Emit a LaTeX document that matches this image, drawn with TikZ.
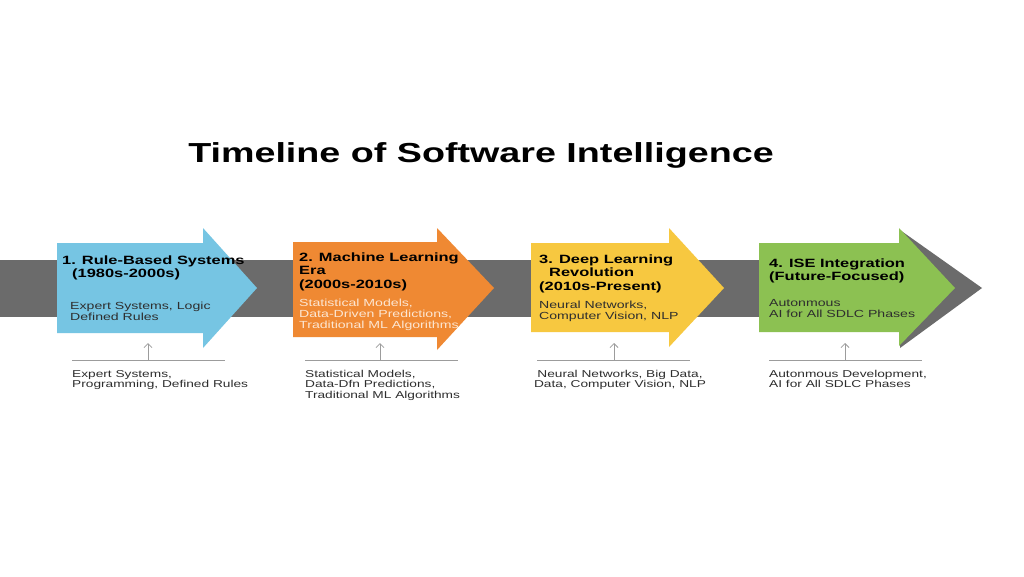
\documentclass[tikz,border=0pt]{standalone}
\usepackage{fontspec}
\setmainfont[FakeStretch=1.37]{Liberation Sans}
\usetikzlibrary{arrows.meta}
\definecolor{bandgray}{HTML}{6B6B6B}
\definecolor{ruleblue}{HTML}{76C5E3}
\definecolor{mlorange}{HTML}{EF8933}
\definecolor{dlyellow}{HTML}{F7C840}
\definecolor{isegreen}{HTML}{8CC152}
\definecolor{linegray}{HTML}{9C9C9C}
\definecolor{textgray}{HTML}{2E2E2E}
\definecolor{peach}{HTML}{FCE6D2}
\begin{document}
\begin{tikzpicture}[x=1pt, y=-1pt,
    heading/.style={anchor=base west, align=left, inner sep=0pt, text=black,
        font=\bfseries\fontsize{12}{13.6}\selectfont},
    detail/.style={anchor=base west, align=left, inner sep=0pt, text=textgray,
        font=\fontsize{10.3}{11.4}\selectfont},
    note/.style={anchor=base west, align=left, inner sep=0pt, text=textgray,
        font=\fontsize{10}{10.8}\selectfont},
    marker/.style={-{Straight Barb[length=4pt,width=8pt]}, linegray, line width=0.8pt},
    baseline/.style={linegray, line width=0.9pt}]
        \useasboundingbox[fill=white] (0,0) rectangle (1024,576);
        % title
        \node[anchor=base, inner sep=0pt, font=\bfseries\fontsize{27.5}{30}\selectfont] (title) at (481,162) {Timeline of Software Intelligence};
        % gray time band
        \fill[bandgray] (0,260) rectangle (905,317);
        \fill[bandgray] (900,230) -- (982,288) -- (900,348) -- cycle;
        % block arrows
        \fill[ruleblue] (57,243) -- (203,243) -- (203,228) -- (257,288) -- (203,348) -- (203,333) -- (57,333) -- cycle;
        \fill[mlorange] (293,242) -- (437,242) -- (437,228) -- (494,288) -- (437,350) -- (437,337) -- (293,337) -- cycle;
        \fill[dlyellow] (531,243) -- (669,243) -- (669,228) -- (724,288) -- (669,347) -- (669,332) -- (531,332) -- cycle;
        \fill[isegreen] (759,243) -- (899,243) -- (899,228) -- (955,288) -- (899,346) -- (899,332) -- (759,332) -- cycle;
        % headings inside the arrows (placed at the baseline of their last line)
        \node[heading] (head1) at (62,277.6)  {1. Rule-Based Systems\\\hspace*{10pt}(1980s-2000s)};
        \node[heading] (head2) at (299,288.2) {2. Machine Learning\\Era\\(2000s-2010s)};
        \node[heading] (head3) at (539,290.2) {3. Deep Learning\\\hspace*{10pt}Revolution\\(2010s-Present)};
        \node[heading] (head4) at (769,280.6) {4. ISE Integration\\(Future-Focused)};
        % details inside the arrows
        \node[detail] (detail1) at (70,320.4)  {Expert Systems, Logic\\Defined Rules};
        \node[detail, text=peach] (detail2) at (299,328.8) {Statistical Models,\\Data-Driven Predictions,\\Traditional ML Algorithms};
        \node[detail] (detail3) at (539,319.4) {Neural Networks,\\Computer Vision, NLP};
        \node[detail] (detail4) at (769,317.4) {Autonmous\\AI for All SDLC Phases};
        % markers under the arrows
        \coordinate (left1) at (72,360);   \coordinate (right1) at (225,360);
        \coordinate (left2) at (305,360);  \coordinate (right2) at (458,360);
        \coordinate (left3) at (537,360);  \coordinate (right3) at (690,360);
        \coordinate (left4) at (769,360);  \coordinate (right4) at (922,360);
        \coordinate (foot1) at (148,360);  \coordinate (tip1) at (148,343);
        \coordinate (foot2) at (380,360);  \coordinate (tip2) at (380,343);
        \coordinate (foot3) at (614,360);  \coordinate (tip3) at (614,343);
        \coordinate (foot4) at (845,360);  \coordinate (tip4) at (845,343);
        \draw[baseline] (left1) -- (right1);
        \draw[baseline] (left2) -- (right2);
        \draw[baseline] (left3) -- (right3);
        \draw[baseline] (left4) -- (right4);
        \draw[marker] (foot1) -- (tip1);
        \draw[marker] (foot2) -- (tip2);
        \draw[marker] (foot3) -- (tip3);
        \draw[marker] (foot4) -- (tip4);
        % notes below
        \node[note] (note1) at (72,387.8)  {Expert Systems,\\Programming, Defined Rules};
        \node[note] (note2) at (305,398.6) {Statistical Models,\\Data-Dfn Predictions,\\Traditional ML Algorithms};
        \node[note, anchor=base, align=center] (note3) at (620,387.8) {Neural Networks, Big Data,\\Data, Computer Vision, NLP};
        \node[note] (note4) at (769,387.8) {Autonmous Development,\\AI for All SDLC Phases};
    \end{tikzpicture}
\end{document}
